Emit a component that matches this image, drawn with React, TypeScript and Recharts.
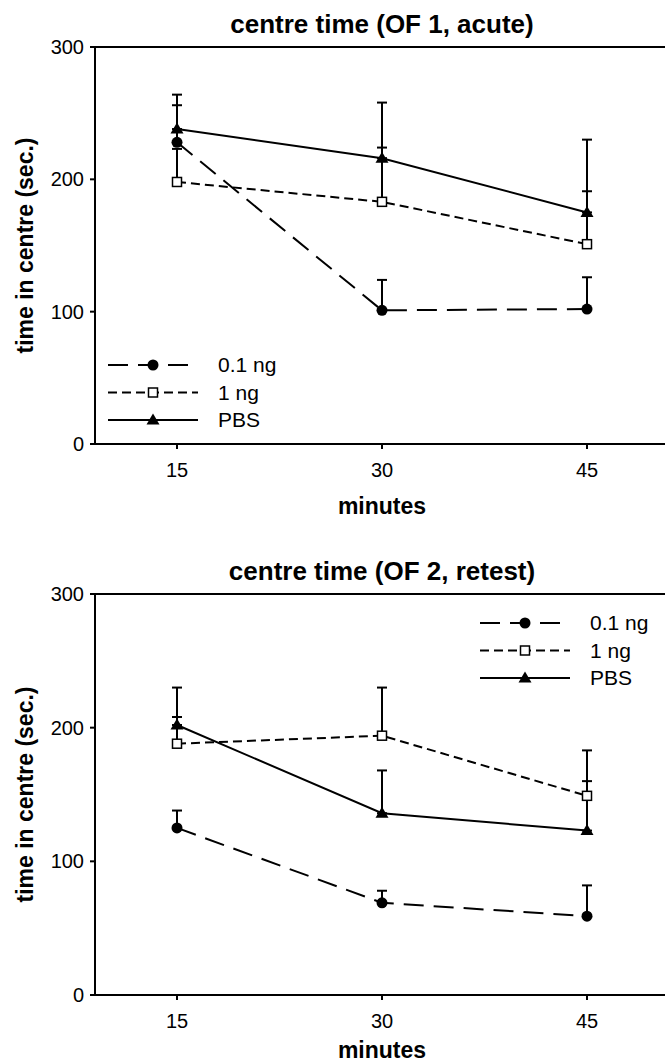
import React from 'react';
import { LineChart, Line, XAxis, YAxis, ErrorBar, ReferenceLine, Legend } from 'recharts';

const minutes = [15, 30, 45];
const yTicks = [0, 100, 200, 300];
const seriesNames = ['0.1 ng', '1 ng', 'PBS'];

// OF 1, acute
const acuteLow = [228, 101, 102];
const acuteLowErr = [28, 23, 24];
const acuteHigh = [198, 183, 151];
const acuteHighErr = [25, 41, 40];
const acutePbs = [238, 216, 175];
const acutePbsErr = [26, 42, 55];

// OF 2, retest
const retestLow = [125, 69, 59];
const retestLowErr = [13, 9, 23];
const retestHigh = [188, 194, 149];
const retestHighErr = [20, 36, 34];
const retestPbs = [202, 136, 123];
const retestPbsErr = [28, 32, 37];

const FONT = '"Liberation Sans", Arial, Helvetica, sans-serif';

const buildRows = (
  low: number[], lowErr: number[],
  high: number[], highErr: number[],
  pbs: number[], pbsErr: number[],
) =>
  minutes.map((m, i) => ({
    minute: m,
    low: low[i],
    lowErr: [0, lowErr[i]],
    high: high[i],
    highErr: [0, highErr[i]],
    pbs: pbs[i],
    pbsErr: [0, pbsErr[i]],
  }));

const acuteData = buildRows(acuteLow, acuteLowErr, acuteHigh, acuteHighErr, acutePbs, acutePbsErr);
const retestData = buildRows(retestLow, retestLowErr, retestHigh, retestHighErr, retestPbs, retestPbsErr);

const CircleMark = ({ cx, cy }: { cx: number; cy: number }) => (
  <circle cx={cx} cy={cy} r={5.5} fill="#000" />
);
const SquareMark = ({ cx, cy }: { cx: number; cy: number }) => (
  <rect x={cx - 4.5} y={cy - 4.5} width={9} height={9} fill="#fff" stroke="#000" strokeWidth={1.5} />
);
const TriangleMark = ({ cx, cy }: { cx: number; cy: number }) => (
  <polygon points={`${cx},${cy - 6.5} ${cx - 6.5},${cy + 4.5} ${cx + 6.5},${cy + 4.5}`} fill="#000" />
);

const seriesStyle: Record<string, { dash?: string; Mark: React.FC<{ cx: number; cy: number }> }> = {
  low: { dash: '20 10', Mark: CircleMark },
  high: { dash: '9 5', Mark: SquareMark },
  pbs: { dash: undefined, Mark: TriangleMark },
};

const LegendBox = (props: any) => {
  const payload = props.payload || [];
  return (
    <svg width={200} height={90} style={{ overflow: 'visible' }}>
      {payload.map((entry: any, i: number) => {
        const st = seriesStyle[entry.dataKey as string];
        const y = 13 + i * 27.5;
        return (
          <g key={entry.dataKey}>
            <line x1={0} x2={90} y1={y} y2={y} stroke="#000" strokeWidth={2} strokeDasharray={st.dash} />
            <st.Mark cx={45} cy={y} />
            <text x={110} y={y} dy="0.35em" fontSize={21} fill="#000" fontFamily={FONT}>
              {entry.value}
            </text>
          </g>
        );
      })}
    </svg>
  );
};

const yLabel = (props: any) => {
  const vb = props.viewBox || { y: 0, height: 0 };
  const cy = vb.y + vb.height / 2;
  return (
    <text x={33} y={cy} transform={`rotate(-90, 33, ${cy})`} textAnchor="middle"
      fontSize={23} fontWeight="bold" fill="#000" fontFamily={FONT}>
      time in centre (sec.)
    </text>
  );
};

const xLabel = (gap: number) => (props: any) => {
  const vb = props.viewBox || { x: 0, y: 0, width: 0 };
  return (
    <text x={vb.x + vb.width / 2} y={vb.y + gap} textAnchor="middle"
      fontSize={23} fontWeight="bold" fill="#000" fontFamily={FONT}>
      minutes
    </text>
  );
};

const titleLabel = (title: string) => (props: any) => {
  const vb = props.viewBox || { x: 0, y: 0, width: 0 };
  return (
    <text x={vb.x + vb.width / 2} y={vb.y - 14} textAnchor="middle"
      fontSize={26} fontWeight="bold" fill="#000" fontFamily={FONT}>
      {title}
    </text>
  );
};

interface PanelProps {
  data: ReturnType<typeof buildRows>;
  title: string;
  height: number;
  axisHeight: number;
  labelGap: number;
  legendLeft: number;
  legendTop: number;
}

const Panel: React.FC<PanelProps> = ({ data, title, height, axisHeight, labelGap, legendLeft, legendTop }) => {
  const tick = { fill: '#000', fontSize: 20, fontFamily: FONT };
  const axisStroke = { stroke: '#000', strokeWidth: 2 };
  return (
    <LineChart width={700} height={height} data={data} margin={{ top: 47, right: 31, left: 0, bottom: 0 }}>
      <XAxis
        dataKey="minute"
        type="number"
        domain={[9, 51]}
        ticks={minutes}
        tick={tick}
        tickSize={5}
        tickMargin={14}
        axisLine={axisStroke}
        tickLine={axisStroke}
        height={axisHeight}
        label={xLabel(labelGap)}
      />
      <YAxis
        type="number"
        domain={[0, 300]}
        ticks={yTicks}
        tick={tick}
        tickSize={5}
        tickMargin={6}
        axisLine={axisStroke}
        tickLine={axisStroke}
        width={95}
        label={yLabel}
      />
      <ReferenceLine y={300} stroke="#000" strokeWidth={2} label={titleLabel(title)} />
      <Legend
        layout="vertical"
        align="center"
        verticalAlign="middle"
        content={LegendBox}
        wrapperStyle={{ left: legendLeft, top: legendTop, width: 200, height: 90 }}
      />
      <Line
        dataKey="low"
        name={seriesNames[0]}
        stroke="#000"
        strokeWidth={2}
        strokeDasharray="20 10"
        isAnimationActive={false}
        dot={(p: any) => <CircleMark key={`l${p.index}`} cx={p.cx} cy={p.cy} />}
        activeDot={false}
      >
        <ErrorBar dataKey="lowErr" direction="y" width={5} stroke="#000" strokeWidth={2} />
      </Line>
      <Line
        dataKey="high"
        name={seriesNames[1]}
        stroke="#000"
        strokeWidth={2}
        strokeDasharray="9 5"
        isAnimationActive={false}
        dot={(p: any) => <SquareMark key={`h${p.index}`} cx={p.cx} cy={p.cy} />}
        activeDot={false}
      >
        <ErrorBar dataKey="highErr" direction="y" width={5} stroke="#000" strokeWidth={2} />
      </Line>
      <Line
        dataKey="pbs"
        name={seriesNames[2]}
        stroke="#000"
        strokeWidth={2}
        isAnimationActive={false}
        dot={(p: any) => <TriangleMark key={`p${p.index}`} cx={p.cx} cy={p.cy} />}
        activeDot={false}
      >
        <ErrorBar dataKey="pbsErr" direction="y" width={5} stroke="#000" strokeWidth={2} />
      </Line>
    </LineChart>
  );
};

export default function App() {
  return (
    <div style={{ position: 'absolute', left: 0, top: 0, width: 665, height: 1063, overflow: 'hidden', background: '#fff', fontFamily: FONT }}>
      <div style={{ position: 'absolute', left: 0, top: 0 }}>
        <Panel data={acuteData} title="centre time (OF 1, acute)" height={520} axisHeight={76} labelGap={70} legendLeft={108} legendTop={352} />
      </div>
      <div style={{ position: 'absolute', left: 0, top: 547 }}>
        <Panel data={retestData} title="centre time (OF 2, retest)" height={516} axisHeight={68} labelGap={63} legendLeft={480} legendTop={63} />
      </div>
    </div>
  );
}
